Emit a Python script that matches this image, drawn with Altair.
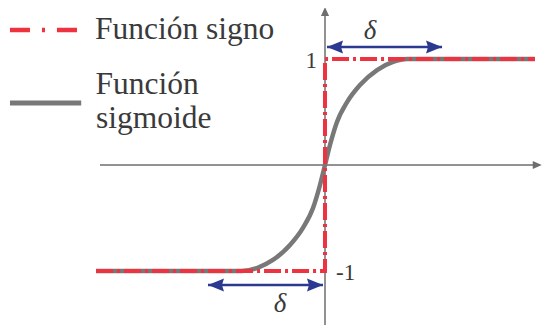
import altair as alt
import pandas as pd

# ---------------- data (math units: 1 unit = one step of the sign function) ----------------
sign_x = [-2.16, 0.0, 0.0, 1.98]
sign_y = [-1.0, -1.0, 1.0, 1.0]

sig_x = [-2.16, -0.79, -0.642, -0.491, -0.330, -0.208, -0.113, -0.047, 0.0,
         0.047, 0.113, 0.208, 0.330, 0.491, 0.642, 0.774, 1.98]
sig_y = [-1.0, -1.0, -0.972, -0.896, -0.755, -0.594, -0.406, -0.189, 0.0,
         0.189, 0.406, 0.594, 0.755, 0.896, 0.972, 1.0, 1.0]

# coordinate axes (start, end of shaft) and arrow tips
haxis_x = [-2.123, 2.0]
vaxis_y = [-1.509, 1.45]
htip = (2.045, 0.0)
vtip = (0.0, 1.49)

# delta arrows
delta_top_x = [0.019, 1.104]
delta_top_y = 1.113
delta_bot_x = [-1.104, -0.019]
delta_bot_y = -1.132
delta_labels = ["δ", "δ"]
delta_lx = [0.425, -0.425]
delta_ly = [1.189, -1.387]

# tick labels
tick_labels = ["1", "-1"]
tick_x = [-0.075, 0.104]
tick_y = [0.915, -1.085]

# legend
leg_line_x = [-2.972, -2.300]
leg_sign_y = 1.274
leg_sig_y = 0.585
leg_text = ["Función signo", "Función", "sigmoide"]
leg_text_x = [-2.170, -2.165, -2.160]
leg_text_y = [1.184, 0.670, 0.349]

RED = "#ee3340"
GRAY = "#787878"
BLUE = "#2b3990"
AXC = "#6e6e6e"
TXT = "#3a3a3a"
FONT = "Liberation Serif"

XS = alt.Scale(domain=[-2.9906, 2.0472], nice=False, zero=False)
YS = alt.Scale(domain=[-1.5377, 1.4811], nice=False, zero=False)


def enc(**kw):
    return dict(x=alt.X("x:Q", scale=XS, axis=None),
                y=alt.Y("y:Q", scale=YS, axis=None), **kw)


# axes
axes_df = pd.DataFrame({
    "x": haxis_x + [0.0, 0.0],
    "y": [0.0, 0.0] + vaxis_y,
    "g": ["h", "h", "v", "v"],
    "o": [0, 1, 0, 1],
})
axes = alt.Chart(axes_df).mark_line(color=AXC, strokeWidth=1.5).encode(
    **enc(detail="g:N", order="o:Q"))
harrow = alt.Chart(pd.DataFrame({"x": [htip[0]], "y": [htip[1]]})).mark_point(
    shape="M0,0 L-2,-0.9 L-2,0.9 Z", size=81, filled=True, color=AXC, opacity=1,
    strokeWidth=0).encode(**enc())
varrow = alt.Chart(pd.DataFrame({"x": [vtip[0]], "y": [vtip[1]]})).mark_point(
    shape="M0,0 L-0.9,2 L0.9,2 Z", size=81, filled=True, color=AXC, opacity=1,
    strokeWidth=0).encode(**enc())

# sigmoid
sig_df = pd.DataFrame({"x": sig_x, "y": sig_y, "o": range(len(sig_x))})
sig = alt.Chart(sig_df).mark_line(color=GRAY, strokeWidth=4.5, interpolate="monotone").encode(
    **enc(order="o:Q"))

# sign function
sign_df = pd.DataFrame({"x": sign_x, "y": sign_y, "o": range(len(sign_x))})
sign = alt.Chart(sign_df).mark_line(color=RED, strokeWidth=4, strokeDash=[17, 4, 3, 4]).encode(
    **enc(order="o:Q"))

# delta arrows
darr_df = pd.DataFrame({
    "x": delta_top_x + delta_bot_x,
    "y": [delta_top_y] * 2 + [delta_bot_y] * 2,
    "g": ["t", "t", "b", "b"],
    "o": [0, 1, 0, 1],
})
dlines = alt.Chart(darr_df).mark_line(color=BLUE, strokeWidth=2.5).encode(
    **enc(detail="g:N", order="o:Q"))
left_df = pd.DataFrame({"x": [delta_top_x[0], delta_bot_x[0]], "y": [delta_top_y, delta_bot_y]})
right_df = pd.DataFrame({"x": [delta_top_x[1], delta_bot_x[1]], "y": [delta_top_y, delta_bot_y]})
lheads = alt.Chart(left_df).mark_point(
    shape="M0,0 L2,-0.8 L1.75,0 L2,0.8 Z", size=256, filled=True, color=BLUE, opacity=1,
    strokeWidth=0).encode(**enc())
rheads = alt.Chart(right_df).mark_point(
    shape="M0,0 L-2,-0.8 L-1.75,0 L-2,0.8 Z", size=256, filled=True, color=BLUE, opacity=1,
    strokeWidth=0).encode(**enc())

dtext = alt.Chart(pd.DataFrame({"x": delta_lx, "y": delta_ly, "t": delta_labels})).mark_text(
    font=FONT, fontSize=27, fontStyle="italic", color=TXT, align="center", baseline="alphabetic"
).encode(**enc(text="t:N"))

ticks_df = pd.DataFrame({"x": tick_x, "y": tick_y, "t": tick_labels})
t1 = alt.Chart(ticks_df.iloc[[0]]).mark_text(
    font=FONT, fontSize=23, color=TXT, align="right", baseline="alphabetic").encode(**enc(text="t:N"))
t2 = alt.Chart(ticks_df.iloc[[1]]).mark_text(
    font=FONT, fontSize=23, color=TXT, align="left", baseline="alphabetic").encode(**enc(text="t:N"))

# legend
leg_red = alt.Chart(pd.DataFrame({"x": leg_line_x, "y": [leg_sign_y] * 2})).mark_line(
    color=RED, strokeWidth=4.5, strokeDash=[20, 12, 3, 12]).encode(**enc())
leg_gray = alt.Chart(pd.DataFrame({"x": leg_line_x, "y": [leg_sig_y] * 2})).mark_line(
    color=GRAY, strokeWidth=5).encode(**enc())
leg_txt = alt.Chart(pd.DataFrame({"x": leg_text_x, "y": leg_text_y, "t": leg_text})).mark_text(
    font=FONT, fontSize=31.5, color=TXT, align="left", baseline="alphabetic").encode(**enc(text="t:N"))

chart = alt.layer(
    axes, harrow, varrow, sig, sign, dlines, lheads, rheads, dtext, t1, t2,
    leg_red, leg_gray, leg_txt
).properties(
    width=534, height=320, padding=0,
    autosize=alt.AutoSizeParams(type="none"),
    background="white",
).configure_view(stroke=None)

chart.save("out.html", embed_options={"renderer": "svg", "actions": False})
